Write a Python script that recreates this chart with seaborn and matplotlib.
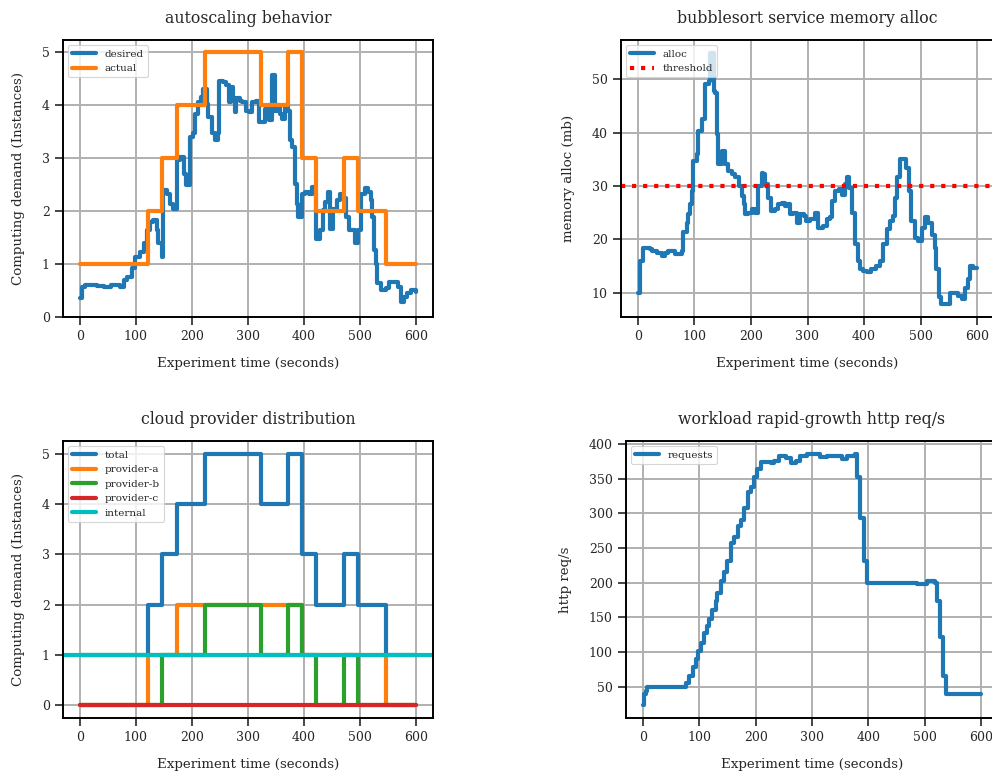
import pandas as pd
import matplotlib
matplotlib.use("Agg")
import matplotlib.pyplot as plt
import seaborn as sns

# autoscaling: desired vs actual instances
desired_t = [0, 3, 10, 20, 30, 43, 55, 72, 78, 84, 93, 99, 108, 114, 120, 126, 131, 137, 140, 146,
             149, 155, 161, 167, 173, 179, 185, 190, 196, 202, 205, 211, 217, 220, 226, 229, 235,
             241, 246, 249, 255, 261, 267, 270, 273, 276, 279, 285, 290, 296, 302, 308, 314, 320,
             325, 331, 337, 343, 348, 352, 357, 360, 366, 372, 375, 378, 384, 387, 390, 396, 402,
             408, 414, 420, 422, 428, 434, 437, 443, 446, 452, 458, 464, 470, 475, 481, 490, 496,
             502, 508, 514, 520, 522, 525, 528, 531, 537, 546, 552, 561, 567, 573, 578, 584, 590, 600]
desired_v = [0.35, 0.57, 0.6, 0.6, 0.58, 0.56, 0.6, 0.57, 0.7, 0.76, 0.92, 1.14, 1.23, 1.39, 1.64,
             1.8, 1.83, 1.64, 1.39, 1.14, 2.4, 2.33, 2.14, 2.05, 2.96, 3.03, 2.71, 2.49, 3.4, 3.47,
             3.84, 4.06, 4.16, 4.31, 4.03, 3.78, 3.47, 3.34, 3.47, 4.47, 4.44, 4.38, 4.06, 4.35,
             4.09, 3.87, 4.13, 4.09, 4.06, 3.9, 3.87, 4.06, 4.09, 3.69, 3.69, 3.94, 3.72, 4.57, 3.9,
             4.0, 3.84, 3.75, 4.0, 3.9, 3.34, 3.21, 2.52, 2.14, 1.89, 2.33, 2.36, 2.33, 2.46, 2.33,
             1.48, 1.64, 2.02, 2.18, 2.36, 1.67, 2.05, 2.21, 2.33, 2.24, 1.89, 1.64, 1.39, 1.64, 2.33,
             2.43, 2.36, 2.21, 1.89, 1.26, 1.01, 0.64, 0.51, 0.54, 0.67, 0.67, 0.57, 0.29, 0.38,
             0.45, 0.51, 0.48]
step_t = [0, 122, 146, 173, 223, 323, 372, 397, 421, 472, 497, 547, 600]
actual_v = [1, 2, 3, 4, 5, 4, 5, 3, 2, 3, 2, 1, 1]

# memory allocation (mb)
alloc_t = [0, 3, 9, 18, 21, 24, 33, 42, 48, 54, 60, 66, 72, 78, 80, 86, 89, 92, 95, 98, 104, 107,
           113, 119, 125, 128, 134, 136, 139, 142, 148, 154, 160, 166, 172, 178, 184, 187, 190,
           195, 201, 207, 213, 219, 222, 225, 230, 236, 242, 248, 254, 260, 266, 269, 275, 281,
           287, 293, 298, 304, 313, 319, 328, 334, 340, 344, 349, 355, 361, 367, 370, 374, 378,
           384, 390, 393, 399, 405, 413, 422, 428, 434, 440, 446, 452, 455, 458, 464, 470, 475,
           479, 484, 490, 496, 502, 508, 514, 520, 526, 528, 533, 537, 546, 552, 558, 567, 573,
           578, 584, 587, 593, 600]
alloc_v = [10, 15.9, 18.4, 18.4, 18.1, 17.8, 17.5, 16.9, 17.5, 17.9, 17.8, 17.3, 17.3, 17.8, 21.3,
           23.1, 24.7, 26.6, 29.1, 34.7, 35.9, 40.3, 42.5, 49.1, 49.7, 55, 47.8, 47.5, 39.7, 34.1,
           36.6, 34.1, 32.8, 32.2, 31.6, 30, 28.1, 26.6, 24.7, 25, 25.6, 25, 30, 32.5, 32.2, 30.3,
           27.8, 25.3, 25.6, 26.6, 26.9, 26.3, 26.6, 24.7, 25, 23.1, 24.7, 24.4, 23.4, 23.8, 25,
           22.2, 22.5, 23.8, 24.1, 27.2, 29.1, 29.4, 28.4, 30.3, 31.6, 29.7, 25, 19.1, 15.9, 14.4,
           14.1, 13.8, 14.4, 15, 15.9, 19.1, 21.9, 23.4, 24.4, 27.8, 31.6, 35, 35, 33.4, 29.1,
           23.4, 20.3, 19.7, 22.2, 24.1, 23.1, 20.9, 18.4, 14.4, 9.1, 7.8, 7.8, 10, 10, 9.4, 8.8,
           10.9, 12.5, 15, 14.7, 14.7]
threshold = 30

# cloud provider distribution
total_v = [1, 2, 3, 4, 5, 4, 5, 3, 2, 3, 2, 1, 1]
provider_a = [0, 1, 1, 2, 2, 2, 2, 1, 1, 1, 1, 0, 0]
provider_b = [0, 0, 1, 1, 2, 1, 2, 1, 0, 1, 0, 0, 0]
provider_c = [0, 0, 0, 0, 0, 0, 0, 0, 0, 0, 0, 0, 0]
internal = 1

# workload http req/s
req_t = [0, 2, 5, 8, 70, 76, 82, 88, 94, 97, 103, 108, 114, 117, 123, 129, 132, 138, 144, 150,
         156, 162, 168, 174, 180, 186, 192, 197, 203, 209, 218, 227, 233, 242, 254, 262, 271,
         279, 291, 300, 315, 327, 339, 353, 362, 377, 380, 386, 392, 398, 486, 504, 519, 521,
         527, 533, 537, 600]
req_v = [23, 39.5, 44, 50, 50, 56, 66, 78, 90, 102, 113.5, 128, 137, 147, 161, 173, 185, 202,
         216, 230.5, 257, 266, 281, 290, 307, 331, 338, 352, 364, 374, 374, 373, 376, 382, 380,
         372, 376, 383, 385, 386, 381, 383, 382, 378, 382, 385, 352, 293, 230.5, 199.5, 198,
         202, 200, 173, 121, 66, 39.5, 40]

sns.set_theme(style="ticks", context="paper")
plt.rcParams.update({
    "font.family": ["DejaVu Serif"],
    "axes.grid": True,
    "grid.color": "#b0b0b0",
    "grid.linewidth": 1.4,
    "axes.edgecolor": "black",
    "axes.linewidth": 1.4,
    "xtick.major.size": 6,
    "ytick.major.size": 6,
    "xtick.major.width": 1.2,
    "ytick.major.width": 1.2,
    "xtick.labelsize": 9,
    "ytick.labelsize": 9,
    "axes.titlesize": 11.3,
    "axes.labelsize": 9.6,
    "legend.fontsize": 7.5,
    "legend.handlelength": 2.3,
    "lines.linewidth": 3,
})

W, H = 992, 775
fig = plt.figure(figsize=(W / 100, H / 100), dpi=100)

def box(l, t, r, b):
    return [l / W, 1 - b / H, (r - l) / W, (b - t) / H]

ax1 = fig.add_axes(box(63, 40, 433, 317))
ax2 = fig.add_axes(box(621, 40, 994, 317))
ax3 = fig.add_axes(box(63, 441, 433, 718))
ax4 = fig.add_axes(box(626, 441, 998, 718))

blue, orange, green, red = sns.color_palette("tab10")[:4]
cyan = "#00bfbf"
step = dict(drawstyle="steps-post", estimator=None, sort=False)

# panel 1
sns.lineplot(x=desired_t, y=desired_v, ax=ax1, color=blue, label="desired", **step)
sns.lineplot(x=step_t, y=actual_v, ax=ax1, color=orange, label="actual", **step)
ax1.set_ylim(bottom=0)
ax1.set_title("autoscaling behavior", pad=12)
ax1.set_ylabel("Computing demand (Instances)", labelpad=12)

# panel 2
sns.lineplot(x=alloc_t, y=alloc_v, ax=ax2, color=blue, label="alloc", **step)
ax2.axhline(threshold, color="red", linestyle=":", linewidth=3, label="threshold")
ax2.set_title("bubblesort service memory alloc", pad=12)
ax2.set_ylabel("memory alloc (mb)", labelpad=12)

# panel 3
sns.lineplot(x=step_t, y=total_v, ax=ax3, color=blue, label="total", **step)
sns.lineplot(x=step_t, y=provider_a, ax=ax3, color=orange, label="provider-a", **step)
sns.lineplot(x=step_t, y=provider_b, ax=ax3, color=green, label="provider-b", **step)
sns.lineplot(x=step_t, y=provider_c, ax=ax3, color=red, label="provider-c", **step)
ax3.axhline(internal, color=cyan, linewidth=3, label="internal")
ax3.set_title("cloud provider distribution", pad=12)
ax3.set_ylabel("Computing demand (Instances)", labelpad=12)

# panel 4
sns.lineplot(x=req_t, y=req_v, ax=ax4, color=blue, label="requests", **step)
ax4.set_title("workload rapid-growth http req/s", pad=12)
ax4.set_ylabel("http req/s", labelpad=12)

for ax in (ax1, ax2, ax3, ax4):
    ax.set_xlabel("Experiment time (seconds)", labelpad=10)
    ax.set_xticks([0, 100, 200, 300, 400, 500, 600])
    ax.legend(loc="upper left")
    ax.set_axisbelow(True)
    for s in ax.spines.values():
        s.set_visible(True)

fig.savefig("out.png", dpi=100)
